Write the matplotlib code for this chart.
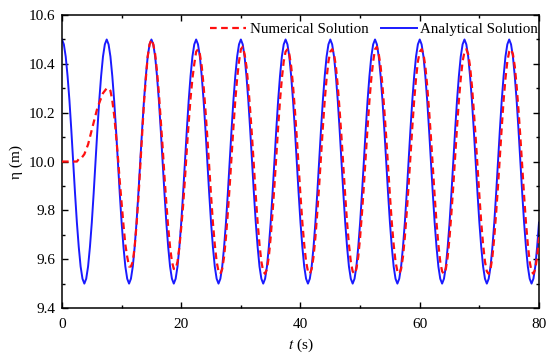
import numpy as np
import matplotlib
matplotlib.use("Agg")
import matplotlib.pyplot as plt
from matplotlib.ticker import MultipleLocator

plt.rcParams['font.family'] = ['Liberation Serif', 'DejaVu Serif']
plt.rcParams['mathtext.fontset'] = 'stix'

# time samples (s), 0.3125 s apart
t = np.linspace(0, 80, 257)

# analytical solution
eta_analytical = [
    10.50, 10.48, 10.43, 10.35, 10.25, 10.13, 10.00, 9.87, 9.75, 9.65, 9.57, 9.52,
    9.50, 9.52, 9.57, 9.65, 9.75, 9.87, 10.00, 10.13, 10.25, 10.35, 10.43, 10.48,
    10.50, 10.48, 10.43, 10.35, 10.25, 10.13, 10.00, 9.87, 9.75, 9.65, 9.57, 9.52,
    9.50, 9.52, 9.57, 9.65, 9.75, 9.87, 10.00, 10.13, 10.25, 10.35, 10.43, 10.48,
    10.50, 10.48, 10.43, 10.35, 10.25, 10.13, 10.00, 9.87, 9.75, 9.65, 9.57, 9.52,
    9.50, 9.52, 9.57, 9.65, 9.75, 9.87, 10.00, 10.13, 10.25, 10.35, 10.43, 10.48,
    10.50, 10.48, 10.43, 10.35, 10.25, 10.13, 10.00, 9.87, 9.75, 9.65, 9.57, 9.52,
    9.50, 9.52, 9.57, 9.65, 9.75, 9.87, 10.00, 10.13, 10.25, 10.35, 10.43, 10.48,
    10.50, 10.48, 10.43, 10.35, 10.25, 10.13, 10.00, 9.87, 9.75, 9.65, 9.57, 9.52,
    9.50, 9.52, 9.57, 9.65, 9.75, 9.87, 10.00, 10.13, 10.25, 10.35, 10.43, 10.48,
    10.50, 10.48, 10.43, 10.35, 10.25, 10.13, 10.00, 9.87, 9.75, 9.65, 9.57, 9.52,
    9.50, 9.52, 9.57, 9.65, 9.75, 9.87, 10.00, 10.13, 10.25, 10.35, 10.43, 10.48,
    10.50, 10.48, 10.43, 10.35, 10.25, 10.13, 10.00, 9.87, 9.75, 9.65, 9.57, 9.52,
    9.50, 9.52, 9.57, 9.65, 9.75, 9.87, 10.00, 10.13, 10.25, 10.35, 10.43, 10.48,
    10.50, 10.48, 10.43, 10.35, 10.25, 10.13, 10.00, 9.87, 9.75, 9.65, 9.57, 9.52,
    9.50, 9.52, 9.57, 9.65, 9.75, 9.87, 10.00, 10.13, 10.25, 10.35, 10.43, 10.48,
    10.50, 10.48, 10.43, 10.35, 10.25, 10.13, 10.00, 9.87, 9.75, 9.65, 9.57, 9.52,
    9.50, 9.52, 9.57, 9.65, 9.75, 9.87, 10.00, 10.13, 10.25, 10.35, 10.43, 10.48,
    10.50, 10.48, 10.43, 10.35, 10.25, 10.13, 10.00, 9.87, 9.75, 9.65, 9.57, 9.52,
    9.50, 9.52, 9.57, 9.65, 9.75, 9.87, 10.00, 10.13, 10.25, 10.35, 10.43, 10.48,
    10.50, 10.48, 10.43, 10.35, 10.25, 10.13, 10.00, 9.87, 9.75, 9.65, 9.57, 9.52,
    9.50, 9.52, 9.57, 9.65, 9.75,
]

# numerical solution
eta_numerical = [
    10.00, 10.00, 10.00, 10.00, 10.00, 10.00, 10.00, 10.00, 10.00, 10.01, 10.01, 10.02,
    10.03, 10.05, 10.07, 10.10, 10.13, 10.16, 10.19, 10.22, 10.24, 10.26, 10.28, 10.29,
    10.30, 10.30, 10.29, 10.25, 10.19, 10.11, 10.02, 9.92, 9.83, 9.74, 9.66, 9.61,
    9.57, 9.57, 9.59, 9.65, 9.74, 9.85, 9.98, 10.11, 10.24, 10.34, 10.43, 10.48,
    10.50, 10.48, 10.44, 10.37, 10.28, 10.17, 10.06, 9.94, 9.83, 9.73, 9.65, 9.59,
    9.56, 9.56, 9.59, 9.65, 9.73, 9.82, 9.93, 10.05, 10.16, 10.26, 10.34, 10.40,
    10.45, 10.46, 10.44, 10.39, 10.31, 10.21, 10.10, 9.98, 9.86, 9.75, 9.66, 9.59,
    9.55, 9.54, 9.56, 9.61, 9.69, 9.79, 9.90, 10.02, 10.14, 10.25, 10.34, 10.41,
    10.46, 10.47, 10.44, 10.39, 10.31, 10.21, 10.10, 9.98, 9.86, 9.75, 9.66, 9.59,
    9.55, 9.54, 9.56, 9.61, 9.69, 9.79, 9.90, 10.02, 10.14, 10.25, 10.34, 10.41,
    10.45, 10.46, 10.44, 10.39, 10.31, 10.21, 10.10, 9.98, 9.86, 9.75, 9.66, 9.59,
    9.55, 9.54, 9.56, 9.61, 9.69, 9.79, 9.90, 10.02, 10.14, 10.25, 10.34, 10.41,
    10.45, 10.46, 10.44, 10.39, 10.31, 10.21, 10.10, 9.98, 9.86, 9.75, 9.66, 9.59,
    9.55, 9.54, 9.56, 9.61, 9.69, 9.79, 9.90, 10.02, 10.14, 10.25, 10.34, 10.41,
    10.46, 10.47, 10.44, 10.39, 10.31, 10.21, 10.10, 9.98, 9.86, 9.75, 9.66, 9.59,
    9.55, 9.54, 9.56, 9.61, 9.69, 9.79, 9.90, 10.02, 10.14, 10.25, 10.34, 10.41,
    10.45, 10.46, 10.44, 10.39, 10.31, 10.21, 10.10, 9.98, 9.86, 9.75, 9.66, 9.59,
    9.55, 9.54, 9.56, 9.61, 9.69, 9.79, 9.90, 10.02, 10.14, 10.25, 10.34, 10.41,
    10.45, 10.46, 10.44, 10.39, 10.31, 10.21, 10.10, 9.98, 9.86, 9.75, 9.66, 9.59,
    9.55, 9.54, 9.56, 9.61, 9.69, 9.79, 9.90, 10.02, 10.14, 10.25, 10.34, 10.41,
    10.45, 10.46, 10.44, 10.39, 10.31, 10.21, 10.10, 9.98, 9.86, 9.75, 9.66, 9.59,
    9.55, 9.54, 9.56, 9.61, 9.69,
]

fig = plt.figure(figsize=(5.5, 3.59), dpi=100)
ax = fig.add_axes([0.1127, 0.142, 0.8673, 0.816])

ax.plot(t, eta_numerical, color='#ff1010', linestyle=(0, (3.0, 2.0)), linewidth=1.6,
        label='Numerical Solution', zorder=3)
ax.plot(t, eta_analytical, color='#1a1aff', linewidth=1.4,
        label='Analytical Solution', zorder=2)

ax.set_xlim(0, 80)
ax.set_ylim(9.4, 10.6)
ax.xaxis.set_major_locator(MultipleLocator(20))
ax.xaxis.set_minor_locator(MultipleLocator(10))
ax.yaxis.set_major_locator(MultipleLocator(0.2))
ax.yaxis.set_minor_locator(MultipleLocator(0.1))
ax.yaxis.set_major_formatter(plt.FormatStrFormatter('%.1f'))

ax.tick_params(which='both', direction='in', top=True, right=True, labelsize=11, width=1.0)
ax.tick_params(which='major', length=4.5, pad=5)
ax.tick_params(axis='x', which='major', pad=7)
ax.tick_params(which='minor', length=2.5)
for s in ax.spines.values():
    s.set_linewidth(1.1)

ax.set_xlabel('$t$ (s)', fontsize=11, labelpad=4)
ax.set_ylabel('η (m)', fontsize=11, labelpad=4)

ax.legend(loc='upper right', bbox_to_anchor=(1.014, 1.0), ncol=2, frameon=False,
          fontsize=10.8, handlelength=2.4, handletextpad=0.25, columnspacing=0.8,
          borderaxespad=0.1)

fig.savefig('out.png', dpi=100)
